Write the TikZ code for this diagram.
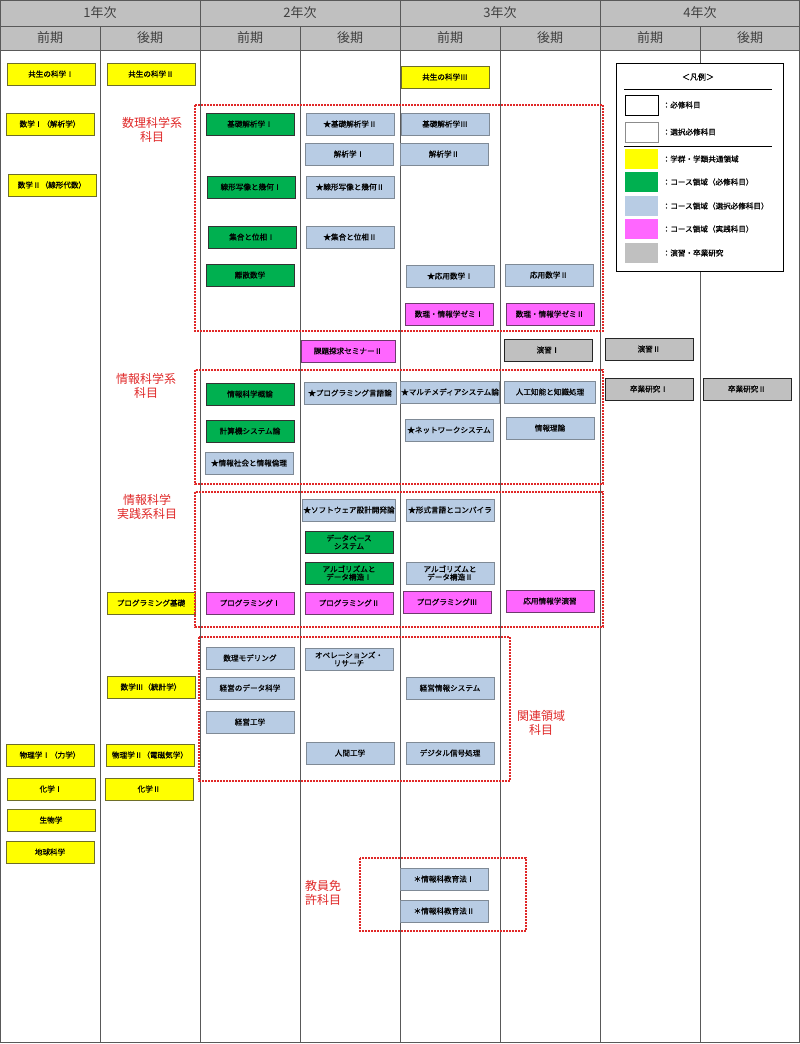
\documentclass[tikz,border=0pt]{standalone}
\usepackage{fontspec}
\setmainfont{Noto Sans CJK JP}
\newfontfamily\boxfont{Noto Sans CJK JP}[UprightFeatures={FakeBold=0.6}]
\usepackage{tikz}
\usetikzlibrary{positioning}
\definecolor{kyellow}{HTML}{FFFF00}
\definecolor{kyellowline}{HTML}{6E6E28}
\definecolor{kgreen}{HTML}{00B050}
\definecolor{kblue}{HTML}{B8CCE4}
\definecolor{kblueline}{HTML}{7F8A96}
\definecolor{kpink}{HTML}{FF66FF}
\definecolor{kpinkline}{HTML}{6E3A6E}
\definecolor{kgray}{HTML}{C0C0C0}
\definecolor{kred}{HTML}{E02828}

\begin{document}
\begin{tikzpicture}[
    x=1pt,y=-1pt,
    subj/.style={draw, line width=1pt, minimum width=88pt, minimum height=22pt,
      inner sep=1pt, align=center, font=\boxfont\fontsize{7.6}{8}\selectfont},
    common/.style={subj, fill=kyellow, draw=kyellowline},
    core/.style={subj, fill=kgreen, draw=black!80},
    elective/.style={subj, fill=kblue, draw=kblueline},
    practice/.style={subj, fill=kpink, draw=kpinkline},
    seminar/.style={subj, fill=kgray, draw=black!85},
    head/.style={draw=black!65, fill=kgray, line width=1pt, inner sep=0pt,
      text=black!75, font=\fontsize{13}{14}\selectfont},
    grid/.style={draw=black!65, line width=1pt},
    zone/.style={draw=kred, line width=2pt, dash pattern=on 1.6pt off 1.4pt},
    zonelabel/.style={text=kred, align=center, font=\fontsize{12}{14}\selectfont},
    swatch/.style={draw, line width=1pt, minimum width=33pt, minimum height=20pt, inner sep=0pt},
    legtext/.style={inner sep=0pt, font=\boxfont\fontsize{7.6}{8}\selectfont}
  ]
    \fill[white] (0,0) rectangle (800,1044);
    \useasboundingbox (0,0) rectangle (800,1044);

    \foreach \yr [count=\i from 0] in {1年次,2年次,3年次,4年次}
      \node[head, minimum width=200pt, minimum height=26pt] (year\i) at (100+200*\i,13) {\yr};
    \foreach \tm [count=\i from 0] in {前期,後期,前期,後期,前期,後期,前期,後期}
      \node[head, minimum width=100pt, minimum height=24pt] (term\i) at (50+100*\i,38) {\tm};
    \foreach \c in {100,200,...,700}
      \draw[grid] (\c,50) -- (\c,1042);
    \draw[grid] (0.5,0.5) rectangle (799.5,1042);

    \node[draw, fill=white, line width=1pt, minimum width=167pt, minimum height=208pt] (legend) at (699.5,167) {};
    \node[legtext, font=\boxfont\fontsize{8}{9}\selectfont] (legtitle) at (698,77) {＜凡例＞};
    \draw[line width=0.8pt] (624,89) -- (772,89);
    \draw[line width=0.8pt] (624,146) -- (772,146);
    \node[swatch, draw=black, fill=white] (sw1) at (641.5,105) {};
    \node[swatch, draw=black!45, fill=white] (sw2) at (641.5,132) {};
    \node[swatch, draw=none, fill=kyellow] (sw3) at (641.5,159) {};
    \node[swatch, draw=none, fill=kgreen] (sw4) at (641.5,182) {};
    \node[swatch, draw=none, fill=kblue] (sw5) at (641.5,206) {};
    \node[swatch, draw=none, fill=kpink] (sw6) at (641.5,229) {};
    \node[swatch, draw=none, fill=kgray] (sw7) at (641.5,253) {};
    \node[legtext, right=4pt of sw1] (lg1) {：必修科目};
    \node[legtext, right=4pt of sw2] (lg2) {：選択必修科目};
    \node[legtext, right=4pt of sw3] (lg3) {：学群・学類共通領域};
    \node[legtext, right=4pt of sw4] (lg4) {：コース領域（必修科目）};
    \node[legtext, right=4pt of sw5] (lg5) {：コース領域（選択必修科目）};
    \node[legtext, right=4pt of sw6] (lg6) {：コース領域（実践科目）};
    \node[legtext, right=4pt of sw7] (lg7) {：演習・卒業研究};

    \node[common] (kyosei1) at (51,74) {共生の科学Ⅰ};
    \node[common] (sugaku1) at (50,124) {数学Ⅰ（解析学）};
    \node[common] (sugaku2) at (52,185) {数学Ⅱ（線形代数）};
    \node[common] (butsuri1) at (50,755) {物理学Ⅰ（力学）};
    \node[common] (kagaku1) at (51,789) {化学Ⅰ};
    \node[common] (seibutsu) at (51,820) {生物学};
    \node[common] (chikyu) at (50,852) {地球科学};

    \node[common] (kyosei2) at (151,74) {共生の科学Ⅱ};
    \node[common] (progkiso) at (151,603) {プログラミング基礎};
    \node[common] (sugaku3) at (151,687) {数学Ⅲ（統計学）};
    \node[common] (butsuri2) at (150,755) {物理学Ⅱ（電磁気学）};
    \node[common] (kagaku2) at (149,789) {化学Ⅱ};

    \node[core] (kaiseki1) at (250,124) {基礎解析学Ⅰ};
    \node[core] (senkei1) at (251,187) {線形写像と幾何Ⅰ};
    \node[core] (shugo1) at (252,237) {集合と位相Ⅰ};
    \node[core] (risan) at (250,275) {離散数学};
    \node[core] (gairon) at (250,394) {情報科学概論};
    \node[core] (keisanki) at (250,431) {計算機システム論};
    \node[elective] (rinri) at (249,463) {★情報社会と情報倫理};
    \node[practice] (prog1) at (250,603) {プログラミングⅠ};
    \node[elective] (model) at (250,658) {数理モデリング};
    \node[elective] (datasci) at (250,688) {経営のデータ科学};
    \node[elective] (keieikogaku) at (250,722) {経営工学};

    \node[elective] (kaiseki2) at (350,124) {★基礎解析学Ⅱ};
    \node[elective] (kaisekiA) at (349,154) {解析学Ⅰ};
    \node[elective] (senkei2) at (350,187) {★線形写像と幾何Ⅱ};
    \node[elective] (shugo2) at (350,237) {★集合と位相Ⅱ};
    \node[practice, minimum width=94pt] (kadai) at (348,351) {課題探求セミナーⅡ};
    \node[elective, minimum width=92pt] (gengo) at (350,393) {★プログラミング言語論};
    \node[elective] (software) at (349,510) {★ソフトウェア設計開発論};
    \node[core] (database) at (349,542) {データベース\\システム};
    \node[core] (algo1) at (349,573) {アルゴリズムと\\データ構造Ⅰ};
    \node[practice] (prog2) at (349,603) {プログラミングⅡ};
    \node[elective] (opres) at (349,659) {オペレーションズ・\\リサーチ};
    \node[elective] (ningen) at (350,753) {人間工学};

    \node[common] (kyosei3) at (445,77) {共生の科学Ⅲ};
    \node[elective] (kaiseki3) at (445,124) {基礎解析学Ⅲ};
    \node[elective] (kaisekiB) at (444,154) {解析学Ⅱ};
    \node[elective] (oyo1) at (450,276) {★応用数学Ⅰ};
    \node[practice] (zemi1) at (449,314) {数理・情報学ゼミⅠ};
    \node[elective, minimum width=99pt] (multi) at (450,392) {★マルチメディアシステム論};
    \node[elective] (network) at (449,430) {★ネットワークシステム};
    \node[elective] (keishiki) at (450,510) {★形式言語とコンパイラ};
    \node[elective] (algo2) at (450,573) {アルゴリズムと\\データ構造Ⅱ};
    \node[practice] (prog3) at (447,602) {プログラミングⅢ};
    \node[elective] (keieijoho) at (450,688) {経営情報システム};
    \node[elective] (digital) at (450,753) {デジタル信号処理};
    \node[elective] (kyoiku1) at (444,879) {＊情報科教育法Ⅰ};
    \node[elective] (kyoiku2) at (444,911) {＊情報科教育法Ⅱ};

    \node[elective] (oyo2) at (549,275) {応用数学Ⅱ};
    \node[practice] (zemi2) at (550,314) {数理・情報学ゼミⅡ};
    \node[seminar] (ensyu1) at (548,350) {演習Ⅰ};
    \node[elective, minimum width=91pt] (jinko) at (550,392) {人工知能と知識処理};
    \node[elective] (joholiron) at (550,428) {情報理論};
    \node[practice] (oyojoho) at (550,601) {応用情報学演習};

    \node[seminar] (ensyu2) at (649,349) {演習Ⅱ};
    \node[seminar] (sotsu1) at (649,389) {卒業研究Ⅰ};
    \node[seminar] (sotsu2) at (747,389) {卒業研究Ⅱ};

    \node[zonelabel] (lbsuri) at (152,130) {数理科学系\\科目};
    \node[zonelabel] (lbjoho) at (146,386) {情報科学系\\科目};
    \node[zonelabel] (lbjissen) at (147,507) {情報科学\\実践系科目};
    \node[zonelabel] (lbkanren) at (541,723) {関連領域\\科目};
    \node[zonelabel] (lbkyoin) at (323,893) {教員免\\許科目};

    \draw[zone] (195,105) rectangle (603,331);
    \draw[zone] (195,370) rectangle (603,484);
    \draw[zone] (195,492) rectangle (603,627);
    \draw[zone] (199,637) rectangle (510,781);
    \draw[zone] (360,858) rectangle (526,931);
  \end{tikzpicture}
\end{document}
